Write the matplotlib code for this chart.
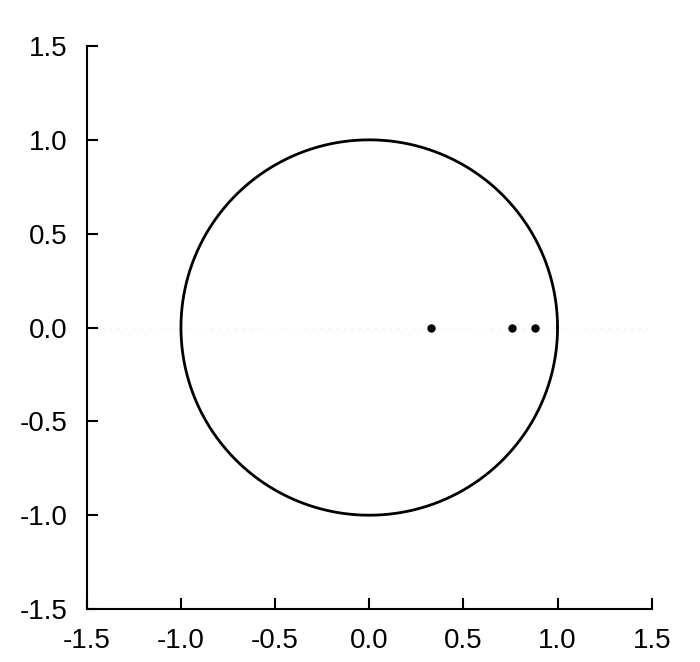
import numpy as np
import matplotlib
matplotlib.use("Agg")
import matplotlib.pyplot as plt

plt.rcParams['font.family'] = ['Liberation Sans', 'DejaVu Sans']

pole_x = [0.33, 0.76, 0.88]
pole_y = [0.0, 0.0, 0.0]
ticks = [-1.5, -1.0, -0.5, 0.0, 0.5, 1.0, 1.5]
tick_labels = ['-1.5', '-1.0', '-0.5', '0.0', '0.5', '1.0', '1.5']

fig = plt.figure(figsize=(7, 6.62), dpi=100)
ax = fig.add_axes([0.124, 0.080, 0.807, 0.8505])

theta = np.linspace(0, 2 * np.pi, 721)
ax.plot(np.cos(theta), np.sin(theta), color='black', lw=2)
ax.axhline(0, color='#e6e6e6', lw=0.8, ls=(0, (1, 6)), zorder=0)
ax.plot(pole_x, pole_y, 'o', color='black', ms=5)

ax.set_xlim(-1.5, 1.5)
ax.set_ylim(-1.5, 1.5)
ax.set_xticks(ticks)
ax.set_xticklabels(tick_labels)
ax.set_yticks(ticks)
ax.set_yticklabels(tick_labels)
ax.spines['top'].set_visible(False)
ax.spines['right'].set_visible(False)
for s in ['left', 'bottom']:
    ax.spines[s].set_linewidth(1.5)
ax.tick_params(direction='in', length=8, width=1.5, labelsize=20, pad=14)

fig.savefig('out.png', dpi=100)
